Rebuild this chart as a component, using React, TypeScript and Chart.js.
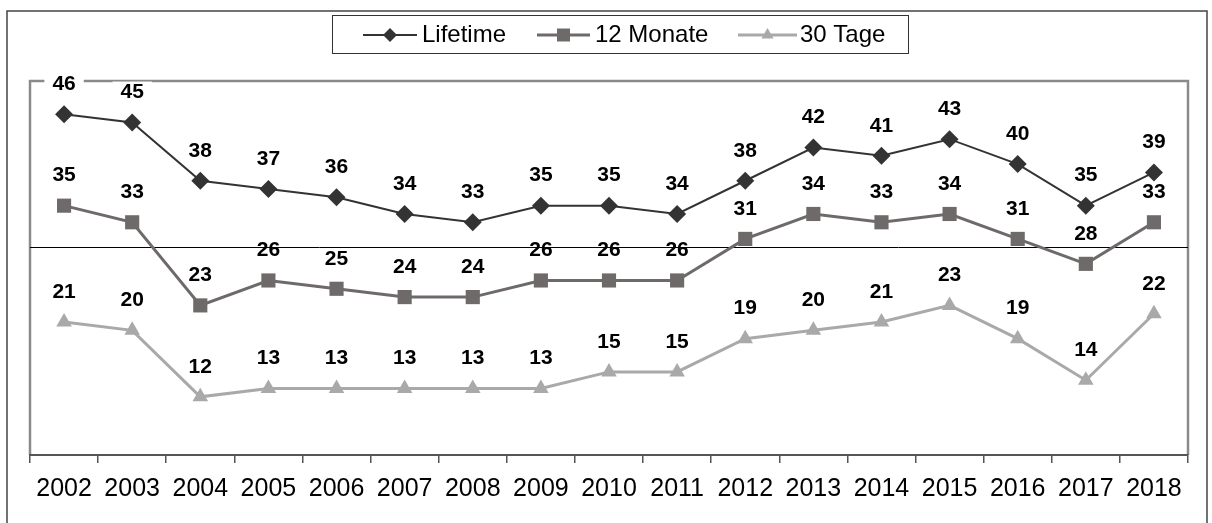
import React, { useEffect, useRef } from "react";
import { Chart, registerables } from "chart.js";

Chart.register(...registerables);

const years = ["2002", "2003", "2004", "2005", "2006", "2007", "2008", "2009", "2010", "2011", "2012", "2013", "2014", "2015", "2016", "2017", "2018"];
const lifetime = [46, 45, 38, 37, 36, 34, 33, 35, 35, 34, 38, 42, 41, 43, 40, 35, 39];
const monate12 = [35, 33, 23, 26, 25, 24, 24, 26, 26, 26, 31, 34, 33, 34, 31, 28, 33];
const tage30 = [21, 20, 12, 13, 13, 13, 13, 13, 15, 15, 19, 20, 21, 23, 19, 14, 22];
const seriesNames = ["Lifetime", "12 Monate", "30 Tage"];
const seriesColors = ["#333333", "#6f6a6a", "#a9a9a9"];

const FONT = "'Liberation Sans', Arial, sans-serif";
const LABEL_OFFSET = 30;
const LABEL_FONT = `bold 21px ${FONT}`;

function drawMarker(ctx: CanvasRenderingContext2D, style: string, x: number, y: number, r: number, color: string) {
  ctx.save();
  ctx.fillStyle = color;
  ctx.beginPath();
  if (style === "rectRot") {
    ctx.moveTo(x, y - r);
    ctx.lineTo(x + r, y);
    ctx.lineTo(x, y + r);
    ctx.lineTo(x - r, y);
  } else if (style === "rect") {
    ctx.rect(x - r, y - r, 2 * r, 2 * r);
  } else {
    ctx.moveTo(x, y - r);
    ctx.lineTo(x + r * 0.866, y + r / 2);
    ctx.lineTo(x - r * 0.866, y + r / 2);
  }
  ctx.closePath();
  ctx.fill();
  ctx.restore();
}

const framePlugin = {
  id: "framePlugin",
  beforeDraw(chart: any) {
    const { ctx, chartArea } = chart;
    if (!chartArea) return;
    const { left, top, right, bottom } = chartArea;
    ctx.save();
    ctx.strokeStyle = "#8a8a8a";
    ctx.lineWidth = 2.5;
    ctx.beginPath();
    ctx.moveTo(left, bottom);
    ctx.lineTo(left, top);
    ctx.lineTo(right, top);
    ctx.lineTo(right, bottom);
    ctx.stroke();
    // white boxes behind labels (cut the frame)
    ctx.font = LABEL_FONT;
    chart.data.datasets.forEach((ds: any, i: number) => {
      const meta = chart.getDatasetMeta(i);
      meta.data.forEach((pt: any, j: number) => {
        const txt = String(ds.data[j]);
        const w = ctx.measureText(txt).width + 16;
        ctx.fillStyle = "#ffffff";
        ctx.fillRect(pt.x - w / 2, pt.y - LABEL_OFFSET - 11, w, 22);
      });
    });
    ctx.restore();
  },
  afterDatasetsDraw(chart: any) {
    const { ctx } = chart;
    ctx.save();
    ctx.font = LABEL_FONT;
    ctx.fillStyle = "#000000";
    ctx.textAlign = "center";
    ctx.textBaseline = "middle";
    chart.data.datasets.forEach((ds: any, i: number) => {
      const meta = chart.getDatasetMeta(i);
      meta.data.forEach((pt: any, j: number) => {
        ctx.fillText(String(ds.data[j]), pt.x, pt.y - LABEL_OFFSET);
      });
    });
    ctx.restore();
  },
  afterDraw(chart: any) {
    const { ctx } = chart;
    ctx.save();
    // outer border
    ctx.strokeStyle = "#444444";
    ctx.lineWidth = 1.5;
    ctx.beginPath();
    ctx.moveTo(7, 523);
    ctx.lineTo(7, 11);
    ctx.lineTo(1207, 11);
    ctx.lineTo(1207, 523);
    ctx.stroke();
    // legend box
    ctx.lineWidth = 1;
    ctx.strokeStyle = "#333333";
    ctx.strokeRect(332.5, 15.5, 576, 38);
    const cy = 35;
    const items = [
      { x0: 363, x1: 417, tx: 422, style: "rectRot", r: 7, lw: 2 },
      { x0: 537, x1: 590, tx: 595, style: "rect", r: 6.5, lw: 3 },
      { x0: 738, x1: 797, tx: 800, style: "triangle", r: 7, lw: 3 },
    ];
    ctx.font = `24px ${FONT}`;
    ctx.textBaseline = "middle";
    ctx.textAlign = "left";
    items.forEach((it, i) => {
      ctx.strokeStyle = seriesColors[i];
      ctx.lineWidth = it.lw;
      ctx.beginPath();
      ctx.moveTo(it.x0, cy);
      ctx.lineTo(it.x1, cy);
      ctx.stroke();
      drawMarker(ctx, it.style, (it.x0 + it.x1) / 2, cy, it.r, seriesColors[i]);
      ctx.fillStyle = "#000000";
      ctx.fillText(seriesNames[i], it.tx, cy);
    });
    ctx.restore();
  },
};

export default function App() {
  const canvasRef = useRef<HTMLCanvasElement | null>(null);

  useEffect(() => {
    const canvas = canvasRef.current;
    if (!canvas) return;
    const chart = new Chart(canvas, {
      type: "line",
      data: {
        labels: years,
        datasets: [
          {
            label: seriesNames[0],
            data: lifetime,
            borderColor: seriesColors[0],
            backgroundColor: seriesColors[0],
            borderWidth: 2,
            pointStyle: "rectRot",
            pointRadius: 9,
            pointBorderWidth: 0,
            tension: 0,
          },
          {
            label: seriesNames[1],
            data: monate12,
            borderColor: seriesColors[1],
            backgroundColor: seriesColors[1],
            borderWidth: 3,
            pointStyle: "rect",
            pointRadius: 10,
            pointBorderWidth: 0,
            tension: 0,
          },
          {
            label: seriesNames[2],
            data: tage30,
            borderColor: seriesColors[2],
            backgroundColor: seriesColors[2],
            borderWidth: 3,
            pointStyle: "triangle",
            pointRadius: 9,
            pointBorderWidth: 0,
            tension: 0,
          },
        ],
      },
      options: {
        responsive: false,
        devicePixelRatio: 1,
        animation: false,
        layout: { padding: { left: 30, right: 24, top: 81, bottom: 0 } },
        plugins: {
          legend: { display: false },
          tooltip: { enabled: false },
          title: { display: false },
        },
        scales: {
          x: {
            type: "category",
            offset: true,
            afterFit: (scale: any) => {
              scale.height = 68;
            },
            grid: {
              offset: true,
              drawOnChartArea: false,
              drawTicks: true,
              tickLength: 8,
              color: "#555555",
              lineWidth: 1.5,
            },
            border: { display: true, color: "#555555", width: 2 },
            ticks: {
              color: "#000000",
              font: { family: FONT, size: 25 },
              padding: 11,
              maxRotation: 0,
              autoSkip: false,
            },
          },
          y: {
            min: 5,
            max: 50,
            afterFit: (scale: any) => {
              scale.width = 0;
            },
            ticks: { display: false, stepSize: 5 },
            border: { display: false },
            grid: {
              drawTicks: false,
              color: (c: any) => (c.tick && c.tick.value === 30 ? "#000000" : "rgba(0,0,0,0)"),
              lineWidth: 1,
            },
          },
        },
      },
      plugins: [framePlugin],
    });
    return () => chart.destroy();
  }, []);

  return (
    <div style={{ position: "absolute", left: 0, top: 0, width: 1212, height: 523, background: "#ffffff" }}>
      <canvas ref={canvasRef} width={1212} height={523} style={{ display: "block" }} />
    </div>
  );
}
